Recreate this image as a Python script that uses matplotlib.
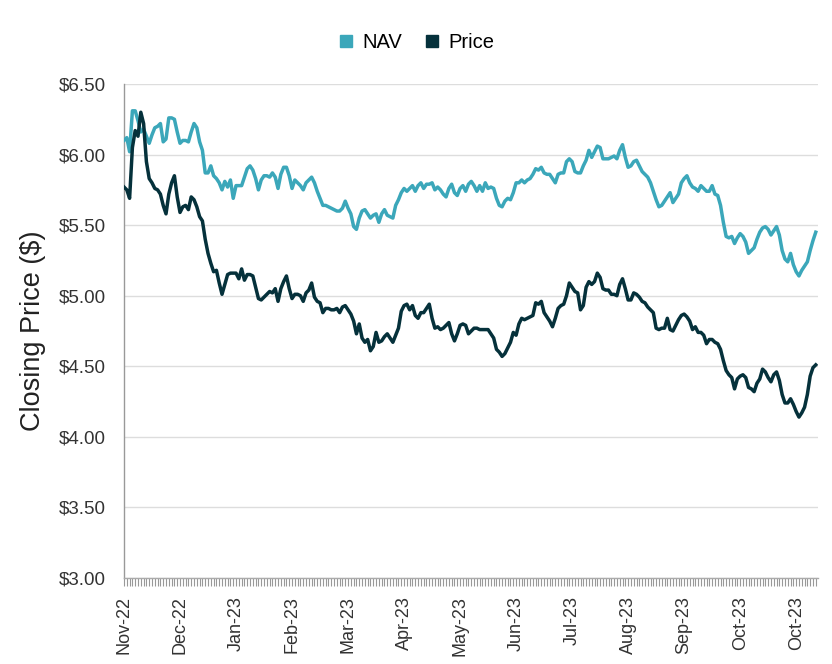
import matplotlib
matplotlib.use("Agg")
import matplotlib.pyplot as plt
from matplotlib.lines import Line2D
from matplotlib.ticker import FixedLocator, FuncFormatter

plt.rcParams['font.family'] = ['Liberation Sans', 'DejaVu Sans']

# Daily closing values, one per trading day
nav = [
    6.10, 6.12, 6.02, 6.31, 6.31, 6.24, 6.16, 6.18, 6.13, 6.08,
    6.14, 6.19, 6.20, 6.22, 6.09, 6.11, 6.26, 6.26, 6.25, 6.16,
    6.08, 6.10, 6.10, 6.09, 6.16, 6.22, 6.19, 6.09, 6.03, 5.87,
    5.87, 5.92, 5.85, 5.83, 5.80, 5.75, 5.81, 5.77, 5.82, 5.69,
    5.78, 5.78, 5.78, 5.84, 5.90, 5.92, 5.89, 5.83, 5.75, 5.82,
    5.85, 5.85, 5.84, 5.87, 5.84, 5.76, 5.86, 5.91, 5.91, 5.85,
    5.76, 5.82, 5.80, 5.78, 5.75, 5.80, 5.82, 5.84, 5.80, 5.74,
    5.69, 5.64, 5.64, 5.63, 5.62, 5.61, 5.60, 5.60, 5.62, 5.67,
    5.62, 5.58, 5.49, 5.47, 5.55, 5.60, 5.61, 5.58, 5.55, 5.57,
    5.58, 5.52, 5.58, 5.61, 5.57, 5.56, 5.55, 5.64, 5.68, 5.73,
    5.76, 5.74, 5.76, 5.78, 5.74, 5.78, 5.80, 5.76, 5.79, 5.79,
    5.80, 5.75, 5.77, 5.75, 5.72, 5.70, 5.76, 5.79, 5.73, 5.71,
    5.76, 5.78, 5.74, 5.79, 5.81, 5.78, 5.74, 5.78, 5.74, 5.80,
    5.76, 5.77, 5.76, 5.69, 5.64, 5.63, 5.67, 5.69, 5.68, 5.73,
    5.80, 5.80, 5.82, 5.80, 5.82, 5.83, 5.86, 5.90, 5.89, 5.91,
    5.87, 5.86, 5.86, 5.83, 5.80, 5.86, 5.87, 5.87, 5.95, 5.97,
    5.95, 5.88, 5.87, 5.87, 5.92, 5.96, 6.03, 5.98, 6.02, 6.06,
    6.05, 5.97, 5.97, 5.97, 5.98, 5.99, 5.97, 6.03, 6.07, 5.98,
    5.91, 5.92, 5.95, 5.96, 5.92, 5.88, 5.86, 5.84, 5.80, 5.74,
    5.68, 5.63, 5.64, 5.67, 5.70, 5.73, 5.66, 5.69, 5.72, 5.80,
    5.83, 5.85, 5.80, 5.77, 5.76, 5.74, 5.78, 5.76, 5.74, 5.74,
    5.78, 5.72, 5.71, 5.64, 5.52, 5.42, 5.41, 5.42, 5.37, 5.41,
    5.44, 5.42, 5.38, 5.30, 5.32, 5.34, 5.40, 5.45, 5.48, 5.49,
    5.47, 5.43, 5.46, 5.49, 5.43, 5.32, 5.26, 5.24, 5.30, 5.22,
    5.17, 5.14, 5.18, 5.21, 5.24, 5.32, 5.39, 5.45,
]

price = [
    5.77, 5.75, 5.69, 6.05, 6.17, 6.13, 6.30, 6.22, 5.95, 5.83,
    5.80, 5.76, 5.75, 5.72, 5.64, 5.58, 5.72, 5.80, 5.85, 5.70,
    5.59, 5.63, 5.64, 5.61, 5.70, 5.68, 5.63, 5.56, 5.53, 5.40,
    5.30, 5.23, 5.17, 5.18, 5.09, 5.01, 5.08, 5.15, 5.16, 5.16,
    5.16, 5.12, 5.19, 5.11, 5.15, 5.15, 5.14, 5.06, 4.98, 4.97,
    4.99, 5.01, 5.03, 5.02, 5.05, 4.96, 5.05, 5.10, 5.14, 5.05,
    4.98, 5.01, 5.01, 5.00, 4.96, 5.02, 5.04, 5.09, 4.99, 4.96,
    4.95, 4.88, 4.91, 4.91, 4.90, 4.90, 4.91, 4.88, 4.92, 4.93,
    4.90, 4.87, 4.82, 4.73, 4.80, 4.70, 4.67, 4.69, 4.61, 4.64,
    4.74, 4.67, 4.68, 4.71, 4.73, 4.70, 4.67, 4.72, 4.77, 4.89,
    4.93, 4.94, 4.90, 4.93, 4.86, 4.84, 4.88, 4.88, 4.91, 4.94,
    4.84, 4.77, 4.78, 4.76, 4.77, 4.79, 4.81, 4.73, 4.68, 4.73,
    4.79, 4.80, 4.79, 4.73, 4.75, 4.77, 4.77, 4.76, 4.76, 4.76,
    4.76, 4.73, 4.70, 4.62, 4.60, 4.57, 4.59, 4.63, 4.67, 4.74,
    4.72, 4.80, 4.84, 4.83, 4.84, 4.85, 4.86, 4.95, 4.94, 4.96,
    4.88, 4.85, 4.82, 4.78, 4.84, 4.91, 4.93, 4.94, 5.00, 5.09,
    5.06, 5.03, 5.02, 4.90, 4.93, 5.06, 5.10, 5.08, 5.10, 5.16,
    5.13, 5.05, 5.04, 5.04, 5.01, 5.01, 5.00, 5.08, 5.12, 5.05,
    4.97, 4.97, 5.02, 5.01, 4.99, 4.96, 4.95, 4.92, 4.90, 4.88,
    4.77, 4.76, 4.77, 4.77, 4.84, 4.76, 4.75, 4.79, 4.83, 4.86,
    4.87, 4.85, 4.82, 4.76, 4.78, 4.74, 4.74, 4.72, 4.66, 4.69,
    4.69, 4.67, 4.66, 4.62, 4.54, 4.47, 4.44, 4.42, 4.34, 4.41,
    4.43, 4.44, 4.42, 4.35, 4.34, 4.32, 4.38, 4.41, 4.48, 4.46,
    4.42, 4.39, 4.44, 4.46, 4.40, 4.30, 4.24, 4.24, 4.27, 4.23,
    4.18, 4.14, 4.17, 4.21, 4.30, 4.43, 4.49, 4.51,
]

month_labels = ["Nov-22", "Dec-22", "Jan-23", "Feb-23", "Mar-23", "Apr-23", "May-23",
                "Jun-23", "Jul-23", "Aug-23", "Sep-23", "Oct-23", "Oct-23"]
y_ticks = [3.0, 3.5, 4.0, 4.5, 5.0, 5.5, 6.0, 6.5]

NAV_COLOR = "#3ba7ba"
PRICE_COLOR = "#05313b"
LABEL_STEP = 20

fig = plt.figure(figsize=(8.32, 6.64), dpi=100)
ax = fig.add_axes([124 / 832, 86 / 664, 694 / 832, 494 / 664])

days = list(range(len(nav)))
ax.plot(days, nav, color=NAV_COLOR, lw=2.5, solid_joinstyle='round', zorder=3)
ax.plot(days, price, color=PRICE_COLOR, lw=2.5, solid_joinstyle='round', zorder=4)

ax.set_xlim(0, len(nav) - 0.2)
ax.set_ylim(3.0, 6.5)

# y axis
ax.set_yticks(y_ticks)
ax.yaxis.set_major_formatter(FuncFormatter(lambda v, _: f"${v:.2f}"))
ax.tick_params(axis='y', length=0, pad=13, labelsize=13.5, labelcolor="#333333")
ax.grid(axis='y', color="#dddddd", lw=1.0, zorder=0)
ax.set_ylabel("Closing Price ($)", fontsize=19.5, color="#222222")
ax.yaxis.set_label_coords(-0.112, 0.5)

# x axis: a tick per trading day, labels every LABEL_STEP days
ax.xaxis.set_major_locator(FixedLocator(list(range(0, len(nav), LABEL_STEP))))
ax.set_xticklabels(month_labels, rotation=90, fontsize=13, color="#333333")
ax.xaxis.set_minor_locator(FixedLocator(days))
ax.tick_params(axis='x', which='both', length=6, width=0.8, color="#999999", pad=7)

for side in ['top', 'right']:
    ax.spines[side].set_visible(False)
ax.spines['left'].set_color("#999999")
ax.spines['bottom'].set_color("#aaaaaa")
ax.spines['left'].set_linewidth(1.0)
ax.spines['bottom'].set_linewidth(1.0)

handles = [
    Line2D([], [], marker='s', ls='none', markersize=9, color=NAV_COLOR, label="NAV"),
    Line2D([], [], marker='s', ls='none', markersize=9, color=PRICE_COLOR, label="Price"),
]
fig.legend(handles=handles, loc='center', bbox_to_anchor=(415 / 832, 1 - 43 / 664), ncol=2,
           frameon=False, fontsize=14.5, handletextpad=0.3, columnspacing=1.0,
           handlelength=1.0)

fig.savefig("out.png", dpi=100)
